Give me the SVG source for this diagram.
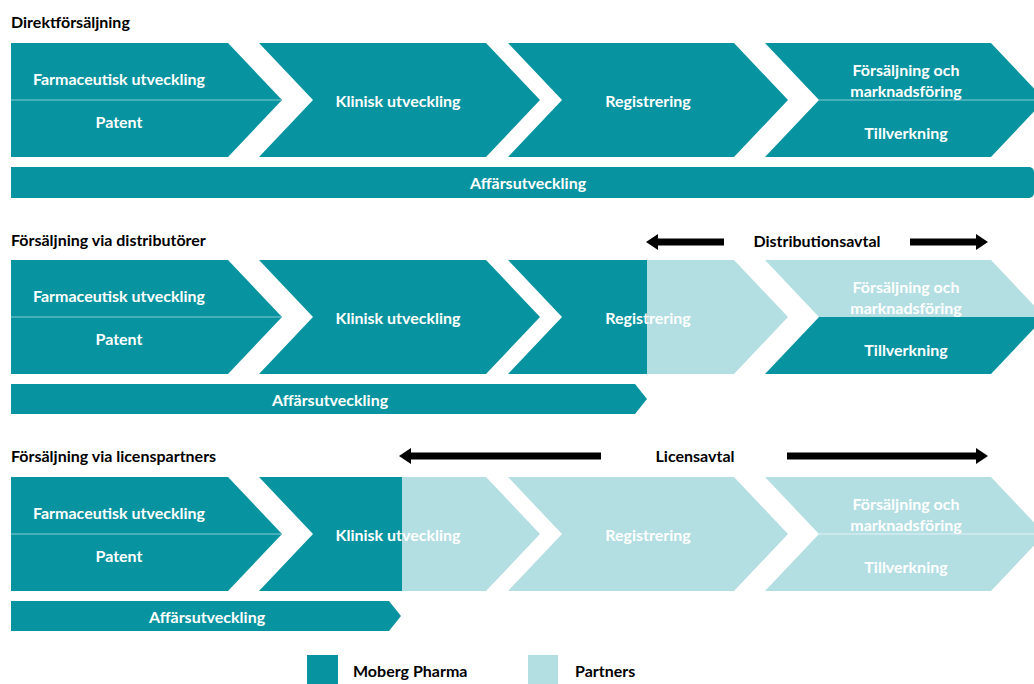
<svg xmlns="http://www.w3.org/2000/svg" width="1034" height="684" viewBox="0 0 1034 684">
<defs>
<style>
.teal{fill:#0794A0}
.light{fill:#B3DEE2}
.div{stroke:#86C9CF;stroke-width:1.2;fill:none}
.divl{stroke:#E4F3F5;stroke-width:1.2;fill:none}
.t{font-family:Lato,"Open Sans",sans-serif;font-weight:bold;font-size:16px;fill:#FFFFFF;text-anchor:middle}
.h{font-family:Lato,"Open Sans",sans-serif;font-weight:bold;font-size:16px;fill:#000000}
.arr{stroke:#000000;stroke-width:7;fill:none}
</style>
<marker id="ah" markerUnits="userSpaceOnUse" markerWidth="12" markerHeight="16" refX="0" refY="8" orient="auto">
<path d="M0,0 L12,8 L0,16 Z" fill="#000000"/>
</marker>
</defs>
<rect width="1034" height="684" fill="#FFFFFF"/>

<!-- Row 1 -->
<text class="h" x="11" y="28">Direktförsäljning</text>
<g id="r1-farm">
<path class="teal" d="M11,43 L228,43 L282,100 L228,157 L11,157 Z"/>
<line class="div" x1="11" y1="100" x2="281" y2="100"/>
<text class="t" x="119" y="85">Farmaceutisk utveckling</text>
<text class="t" x="119" y="128">Patent</text>
</g>
<g id="r1-klin">
<path class="teal" d="M259,43 L486,43 L540,100 L486,157 L259,157 L313,100 Z"/>
<text class="t" x="398" y="107">Klinisk utveckling</text>
</g>
<g id="r1-reg">
<path class="teal" d="M508,43 L734,43 L788,100 L734,157 L508,157 L562,100 Z"/>
<text class="t" x="648" y="107">Registrering</text>
</g>
<g id="r1-fors">
<path class="teal" d="M765,43 L991,43 L1045,100 L991,157 L765,157 L819,100 Z"/>
<line class="div" x1="819" y1="100" x2="1034" y2="100"/>
<text class="t" x="906" y="76">Försäljning och</text>
<text class="t" x="906" y="97">marknadsföring</text>
<text class="t" x="906" y="139">Tillverkning</text>
</g>
<g id="r1-aff">
<rect class="teal" x="11" y="167" width="1023" height="31" rx="5"/>
<rect class="teal" x="11" y="167" width="20" height="31"/>
<text class="t" x="528" y="189">Affärsutveckling</text>
</g>

<!-- Row 2 -->
<text class="h" x="11" y="246">Försäljning via distributörer</text>
<text class="h" x="817" y="247" text-anchor="middle">Distributionsavtal</text>
<g id="r2-farm">
<path class="teal" d="M11,260 L228,260 L282,317 L228,374 L11,374 Z"/>
<line class="div" x1="11" y1="317" x2="281" y2="317"/>
<text class="t" x="119" y="302">Farmaceutisk utveckling</text>
<text class="t" x="119" y="345">Patent</text>
</g>
<g id="r2-klin">
<path class="teal" d="M259,260 L486,260 L540,317 L486,374 L259,374 L313,317 Z"/>
<text class="t" x="398" y="324">Klinisk utveckling</text>
</g>
<g id="r2-reg">
<path class="teal" d="M508,260 L647,260 L647,374 L508,374 L562,317 Z"/>
<path class="light" d="M647,260 L734,260 L788,317 L734,374 L647,374 Z"/>
<text class="t" x="648" y="324">Registrering</text>
</g>
<g id="r2-fors">
<path class="light" d="M765,260 L991,260 L1045,317 L819,317 Z"/>
<path class="teal" d="M819,317 L1045,317 L991,374 L765,374 Z"/>
<text class="t" x="906" y="293">Försäljning och</text>
<text class="t" x="906" y="314">marknadsföring</text>
<text class="t" x="906" y="356">Tillverkning</text>
</g>
<g id="r2-aff">
<path class="teal" d="M11,384 L635,384 L647,399 L635,414 L11,414 Z"/>
<text class="t" x="330" y="406">Affärsutveckling</text>
</g>

<!-- Row 3 -->
<text class="h" x="11" y="462">Försäljning via licenspartners</text>
<text class="h" x="695" y="462" text-anchor="middle">Licensavtal</text>
<g id="r3-farm">
<path class="teal" d="M11,477 L228,477 L282,534 L228,591 L11,591 Z"/>
<line class="div" x1="11" y1="534" x2="281" y2="534"/>
<text class="t" x="119" y="519">Farmaceutisk utveckling</text>
<text class="t" x="119" y="562">Patent</text>
</g>
<g id="r3-klin">
<path class="teal" d="M259,477 L402,477 L402,591 L259,591 L313,534 Z"/>
<path class="light" d="M402,477 L486,477 L540,534 L486,591 L402,591 Z"/>
<text class="t" x="398" y="541">Klinisk utveckling</text>
</g>
<g id="r3-reg">
<path class="light" d="M508,477 L734,477 L788,534 L734,591 L508,591 L562,534 Z"/>
<text class="t" x="648" y="541">Registrering</text>
</g>
<g id="r3-fors">
<path class="light" d="M765,477 L991,477 L1045,534 L991,591 L765,591 L819,534 Z"/>
<line class="divl" x1="819" y1="534" x2="1034" y2="534"/>
<text class="t" x="906" y="510">Försäljning och</text>
<text class="t" x="906" y="531">marknadsföring</text>
<text class="t" x="906" y="573">Tillverkning</text>
</g>
<g id="r3-aff">
<path class="teal" d="M11,601 L389,601 L401,616 L389,631 L11,631 Z"/>
<text class="t" x="207" y="623">Affärsutveckling</text>
</g>

<!-- Connectors (agreement arrows) -->
<g id="connectors">
<line class="arr" x1="724" y1="242" x2="658" y2="242" marker-end="url(#ah)"/>
<line class="arr" x1="910" y1="242" x2="976" y2="242" marker-end="url(#ah)"/>
<line class="arr" x1="601" y1="456" x2="411" y2="456" marker-end="url(#ah)"/>
<line class="arr" x1="787" y1="456" x2="976" y2="456" marker-end="url(#ah)"/>
</g>

<!-- Legend -->
<g id="legend-moberg">
<rect class="teal" x="307" y="655" width="31" height="29"/>
<text class="h" x="353" y="677">Moberg Pharma</text>
</g>
<g id="legend-partners">
<rect class="light" x="528" y="655" width="30" height="29"/>
<text class="h" x="575" y="677">Partners</text>
</g>
</svg>
